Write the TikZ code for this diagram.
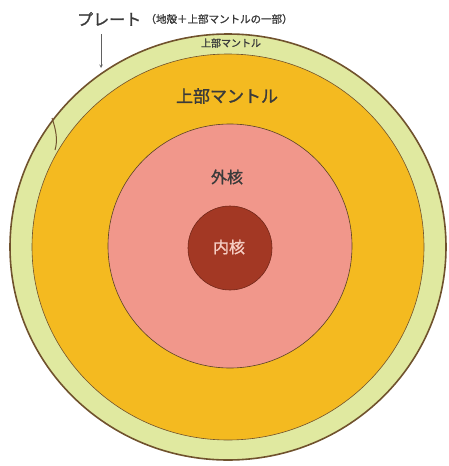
\documentclass[tikz,border=0pt]{standalone}
\usepackage{xcolor}
\usepackage{fontspec}
\setmainfont{Noto Sans CJK JP}[FakeBold=1.3]
\usepackage{tikz}
\usetikzlibrary{calc,positioning}
\definecolor{plateColor}{RGB}{224, 233, 160}
\definecolor{mantleColor}{RGB}{244, 186, 32}
\definecolor{outerCoreColor}{RGB}{241, 151, 139}
\definecolor{innerCoreColor}{RGB}{163, 56, 36}
\definecolor{rimColor}{RGB}{112, 82, 45}
\definecolor{labelColor}{RGB}{58, 58, 58}
\definecolor{lightLabelColor}{RGB}{245, 205, 195}

\begin{document}
\begin{tikzpicture}[x=1pt, y=-1pt,
    layer/.style={draw=rimColor, line width=1pt},
    label/.style={inner sep=0pt, text=labelColor}]
            \useasboundingbox (0,0) rectangle (449,466);

            % Plate and upper mantle shells
            \fill[plateColor] (228,247) ellipse [x radius=218, y radius=213];
            \draw[layer, line width=1.6pt] (228,247) ellipse [x radius=218, y radius=213];
            \draw[layer, fill=mantleColor, line width=0.6pt] (228,247) ellipse [x radius=196, y radius=193];

            % Plate boundary crack
            \draw[rimColor, line width=1pt] (52,118) .. controls (56,130) and (58,140) .. (55,150);

            % Outer and inner core
            \draw[draw=rimColor!80!black, line width=0.6pt, fill=outerCoreColor] (230,246) circle [radius=122];
            \draw[draw=innerCoreColor!70!black, line width=0.6pt, fill=innerCoreColor] (230,248) circle [radius=42];

            % Layer names
            \node[label, font=\fontsize{10}{12}\selectfont] (thinMantle) at (231,43) {上部マントル};
            \node[label, font=\fontsize{17}{20}\selectfont] (mantle) at (227,96) {上部マントル};
            \node[label, font=\fontsize{16}{19}\selectfont] (outerCore) at (227,177) {外核};
            \node[label, font=\fontsize{16}{19}\selectfont, text=lightLabelColor] (innerCore) at (229,247) {内核};

            % Plate label with pointer
            \node[label, anchor=west, font=\fontsize{16}{19}\selectfont] (plate) at (77,19) {プレート};
            \node[label, anchor=west, font=\fontsize{10.5}{12}\selectfont, right=4pt of plate] (plateNote) {（地殻＋上部マントルの一部）};
            \coordinate (plateEdge) at (101,68);
            \draw[-stealth, labelColor!80, line width=0.6pt] (plate.south -| plateEdge) ++(0,8) -- (plateEdge);
        \end{tikzpicture}
\end{document}
